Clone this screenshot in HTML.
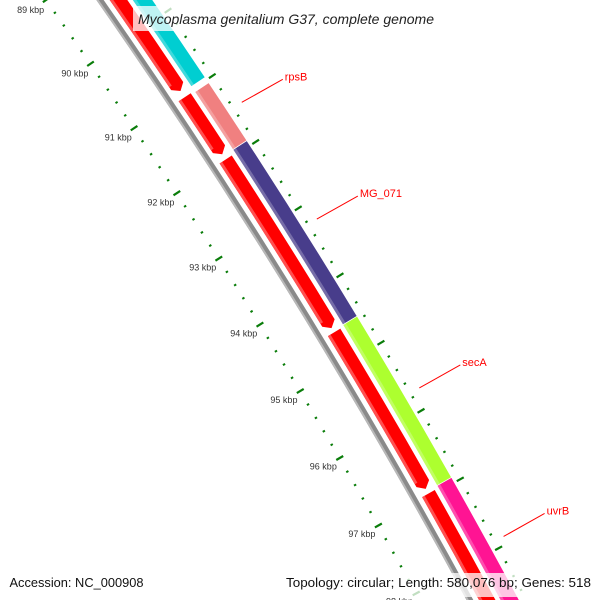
<!DOCTYPE html>
<html><head><meta charset="utf-8"><style>
html,body{margin:0;padding:0;background:#fff;width:600px;height:600px;overflow:hidden;}
svg{display:block;font-family:"Liberation Sans","DejaVu Sans",sans-serif;overflow:hidden;}
</style></head><body>
<svg id="map" width="600" height="600" viewBox="0 0 600 600" xmlns="http://www.w3.org/2000/svg">
<g id="backbone-g"></g>
<g id="ticks-g"></g>
<g id="feat-g"></g>
<g id="labels-g"></g>
<rect x="133" y="6" width="308" height="25" fill="#fff" opacity="0.75"/>
<text x="138" y="24" font-size="14" font-style="italic" fill="#222" textLength="296" lengthAdjust="spacingAndGlyphs">Mycoplasma genitalium G37, complete genome</text>
<rect x="279" y="573" width="317" height="24" fill="#fff" opacity="0.75"/>
<text x="9.5" y="587" font-size="12.5" fill="#111" textLength="134" lengthAdjust="spacingAndGlyphs">Accession: NC_000908</text>
<text x="286" y="587" font-size="12.5" fill="#111" textLength="305" lengthAdjust="spacingAndGlyphs">Topology: circular; Length: 580,076 bp; Genes: 518</text>
</svg>
<script>
// Data
const outerStarts = [80000, 91050, 91930, 94560, 96930];
const outerEnds   = [90960, 91920, 94550, 96920, 104000];
const outerColors = ["#00ced1", "#f08080", "#483d8b", "#adff2f", "#ff1493"];
const outerNames  = ["feature-cyan", "rpsB", "MG_071", "secA", "uvrB"];
const innerStarts = [80000, 91030, 91980, 94580, 96960];
const innerEnds   = [90935, 91900, 94517, 96890, 104000];
const labelNames  = ["rpsB", "MG_071", "secA", "uvrB"];
const labelBps    = [91485, 93240, 95740, 97900];
const tickStartKbp = 86;
const tickEndKbp = 99;
const minorStep = 200;

// Geometry (fitted)
const SVGNS = "http://www.w3.org/2000/svg";
const CX = -5070, CY = 3602, R0 = 6301;
const T93 = -32.30 * Math.PI / 180;
const K = 0.712 * Math.PI / 180 / 1000;
function ang(bp){ return T93 + (bp - 93000) * K; }
function pt(r, t){ return [CX + r * Math.cos(t), CY + r * Math.sin(t)]; }
function mk(tag, attrs, parent){ const e = document.createElementNS(SVGNS, tag); for (const k in attrs) e.setAttribute(k, attrs[k]); parent.appendChild(e); return e; }
function seg(a, b, r1, r2, arrow){
  const t1 = ang(a), t2 = ang(b), d = 6 / r2;
  const te = arrow ? t2 - d : t2;
  const p1 = pt(r2, t1), p2 = pt(r2, te), p3 = pt(r1, te), p4 = pt(r1, t1);
  let s = `M${p1[0]},${p1[1]} A${r2},${r2} 0 0 1 ${p2[0]},${p2[1]} `;
  if (arrow) { const tp = pt((r1 + r2) / 2, t2); s += `L${tp[0]},${tp[1]} `; }
  s += `L${p3[0]},${p3[1]} A${r1},${r1} 0 0 0 ${p4[0]},${p4[1]} Z`;
  return s;
}
const bbG = document.getElementById('backbone-g');
const tkG = document.getElementById('ticks-g');
const ftG = document.getElementById('feat-g');
const lbG = document.getElementById('labels-g');

// backbone
let bb = mk('path', {d: seg(85000, 100000, R0 - 3, R0 + 3, false), fill: '#8a8a8a'}, bbG);


let bb2 = mk('path', {d: seg(85000, 100000, R0 - 3, R0 - 1, false), fill: '#b8b8b8'}, bbG);



// ticks
for (let bp = tickStartKbp * 1000; bp <= tickEndKbp * 1000; bp += minorStep) {
  const major = bp % 1000 === 0;
  const t = ang(bp);
  const inner = major ? [R0 - 48, R0 - 40] : [R0 - 45.5, R0 - 43];
  const outer = major ? [R0 + 46, R0 + 54] : [R0 + 48.5, R0 + 51];
  [inner, outer].forEach((rr, i) => {
    const a = pt(rr[0], t), b = pt(rr[1], t);
    const l = mk('line', {x1: a[0], y1: a[1], x2: b[0], y2: b[1], stroke: '#0a7d0a', 'stroke-width': major ? 2.2 : 2}, tkG);
    
    
  });
  if (major) {
    const p = pt(R0 - 63, t);
    const tx = mk('text', {x: p[0], y: p[1] + 2, 'font-size': 9, 'text-anchor': 'middle', fill: '#333'}, tkG);
    tx.textContent = (bp / 1000) + ' kbp';
    
    
  }
}

// inner (red) strand
for (let i = 0; i < innerStarts.length; i++) {
  const p = mk('path', {d: seg(innerStarts[i], Math.min(innerEnds[i], 100000), R0 + 8, R0 + 22.5, innerEnds[i] < 100000), fill: '#ff0000'}, ftG);
  
  
  const h = mk('path', {d: seg(innerStarts[i], Math.min(innerEnds[i], 100000) - 120, R0 + 8, R0 + 11, false), fill: '#ff5050'}, ftG);
  
  
}
// outer strand
for (let i = 0; i < outerStarts.length; i++) {
  const e = Math.min(outerEnds[i], 100000);
  const p = mk('path', {d: seg(outerStarts[i], e, R0 + 27, R0 + 43, false), fill: outerColors[i]}, ftG);
  
  
  const h = mk('path', {d: seg(outerStarts[i], e, R0 + 27, R0 + 30, false), fill: '#ffffff', opacity: 0.25}, ftG);
  
  
}
// labels
for (let i = 0; i < labelNames.length; i++) {
  const a = pt(R0 + 60, ang(labelBps[i]));
  const b = [a[0] + 41, a[1] - 23];
  const l = mk('line', {x1: a[0], y1: a[1], x2: b[0], y2: b[1], stroke: '#ff0000', 'stroke-width': 1}, lbG);
  
  
  const tx = mk('text', {x: b[0] + 2, y: b[1] + 1, 'font-size': 11, fill: '#ff0000'}, lbG);
  tx.textContent = labelNames[i];
  
  
}
</script>
</body></html>
